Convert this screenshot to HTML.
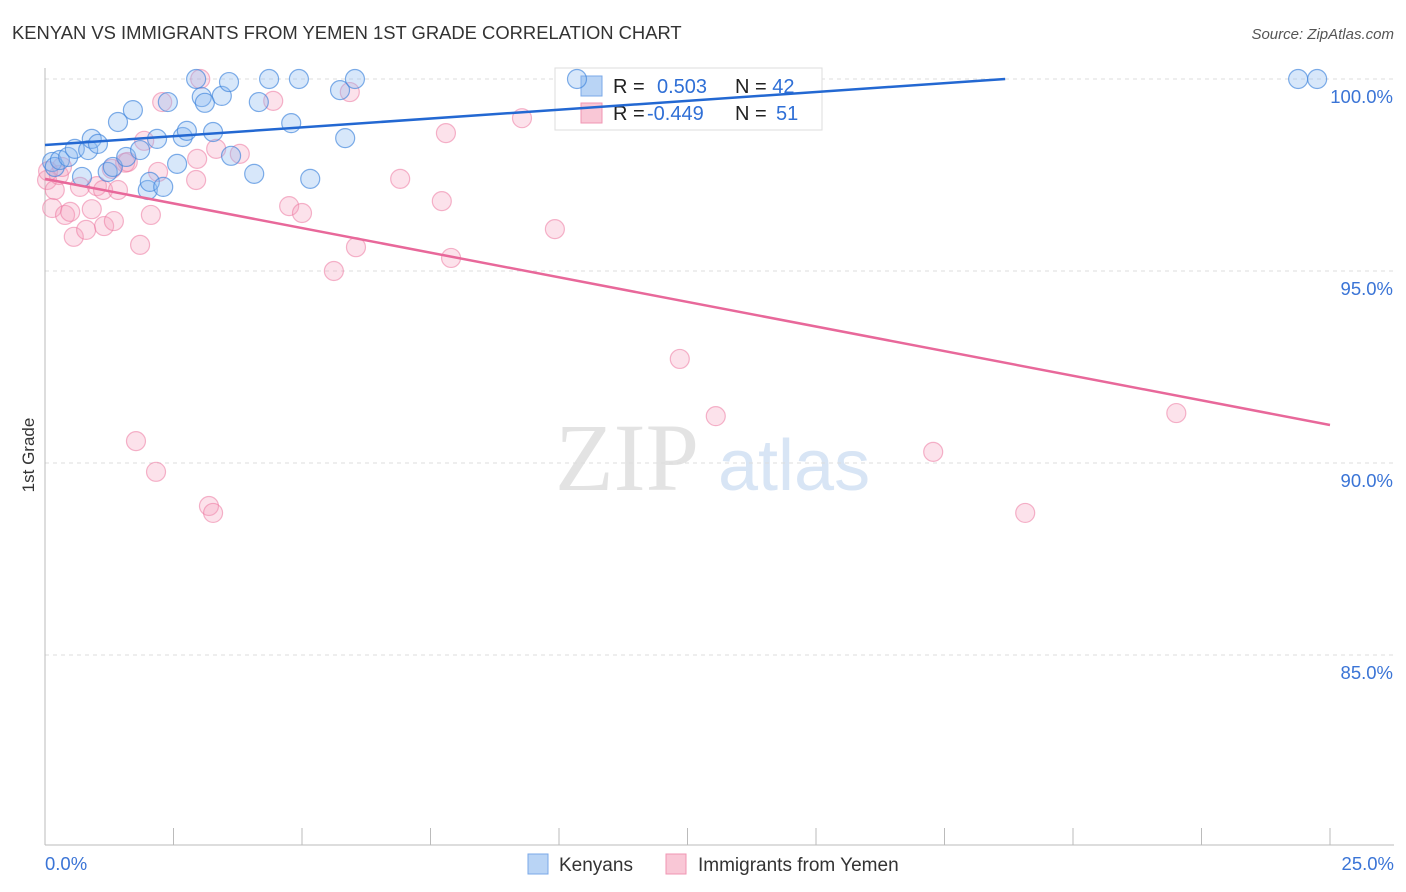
<!DOCTYPE html>
<html><head><meta charset="utf-8"><style>
body{margin:0;background:#fff;font-family:"Liberation Sans",sans-serif}
#wrap{position:relative;width:1406px;height:892px;overflow:hidden}
</style></head><body>
<div id="wrap">
<svg id="chart" width="1406" height="892">
<text x="12" y="39" font-size="18.4" fill="#333">KENYAN VS IMMIGRANTS FROM YEMEN 1ST GRADE CORRELATION CHART</text>
<text x="1394" y="39" font-size="15" fill="#555" font-style="italic" text-anchor="end">Source: ZipAtlas.com</text>
<text x="34" y="455" font-size="17" fill="#333" transform="rotate(-90 34 455)" text-anchor="middle">1st Grade</text>
<text x="555" y="490" font-size="96" fill="#e3e3e3" font-family="Liberation Serif,serif">ZIP</text>
<text x="718" y="490" font-size="72" fill="#d8e5f5">atlas</text>
<g id="grid"></g><g id="axes"></g>
<g>
<rect x="555" y="68" width="267" height="62" fill="#fff" stroke="#ddd"/>
<rect x="581" y="76" width="21" height="20" fill="#b9d4f5" stroke="#7aa8e8"/>
<rect x="581" y="103" width="21" height="20" fill="#f9c7d6" stroke="#f096b3"/>
<text x="613" y="93" font-size="20" fill="#222">R = <tspan x="657" fill="#2f6fd6">0.503</tspan><tspan x="735" fill="#222">N = </tspan><tspan fill="#2f6fd6">42</tspan></text>
<text x="613" y="120" font-size="20" fill="#222">R = <tspan x="647" fill="#2f6fd6">-0.449</tspan><tspan x="735" fill="#222">N = </tspan><tspan x="776" fill="#2f6fd6">51</tspan></text>
</g>
<g id="pts"></g><g id="lines"></g>
<g>
<rect x="528" y="854" width="20" height="20" fill="#b9d4f5" stroke="#7aa8e8"/>
<text x="559" y="871" font-size="19" fill="#333">Kenyans</text>
<rect x="666" y="854" width="20" height="20" fill="#f9c7d6" stroke="#f096b3"/>
<text x="698" y="871" font-size="19" fill="#333">Immigrants from Yemen</text>
</g>
<text x="45" y="870" font-size="18.5" fill="#3a74d6">0.0%</text>
<text x="1394" y="870" font-size="18.5" fill="#3a74d6" text-anchor="end">25.0%</text>
</svg></div>
<script>
const yTicks=[100,95,90,85];
const yTickLabels=["100.0%","95.0%","90.0%","85.0%"];
const xTicks=[2.5,5,7.5,10,12.5,15,17.5,20,22.5,25];
const kenyanX=[0.14,0.19,0.29,0.45,0.58,0.72,0.84,0.91,1.03,1.22,1.32,1.42,1.58,1.71,1.85,2.0,2.04,2.18,2.3,2.39,2.57,2.68,2.76,2.94,3.05,3.11,3.27,3.44,3.58,3.62,4.07,4.16,4.36,4.79,4.94,5.16,5.74,5.84,6.03,10.35,24.38,24.75];
const kenyanY=[97.84,97.71,97.89,97.97,98.18,97.45,98.15,98.44,98.31,97.58,97.71,98.88,97.97,99.19,98.15,97.11,97.32,98.44,97.19,99.4,97.79,98.49,98.65,100,99.53,99.38,98.62,99.56,99.92,98.0,97.53,99.4,100,98.85,100,97.4,99.71,98.46,100,100,100,100];
const yemenX=[0.04,0.14,0.19,0.27,0.39,0.49,0.56,0.68,0.8,0.91,1.01,1.13,1.15,1.3,1.34,1.42,1.56,1.77,1.85,1.93,2.06,2.16,2.2,2.28,2.94,2.96,3.02,3.19,3.27,3.33,3.79,4.44,4.75,5.0,5.62,5.93,6.05,6.91,7.72,7.8,7.9,9.28,9.92,12.35,13.05,17.28,19.07,22.01,0.06,0.33,1.61];
const yemenY=[97.37,96.64,97.11,97.5,96.46,96.54,95.89,97.19,96.07,96.61,97.21,97.11,96.17,97.66,96.3,97.11,97.82,90.57,95.68,98.39,96.46,89.77,97.58,99.4,97.37,97.92,100,88.88,88.7,98.18,98.05,99.43,96.69,96.51,95.0,99.66,95.62,97.4,96.82,98.59,95.34,98.98,96.09,92.71,91.22,90.29,88.7,91.3,97.6,97.71,97.84];
const kenyanLine=[[0,98.28],[18.68,100]];
const yemenLine=[[0,97.4],[25,90.99]];
const X=v=>45+v/25*1285, Y=v=>79+(100-v)*38.4;
const NS="http://www.w3.org/2000/svg";
function mk(p,t,a){const e=document.createElementNS(NS,t);for(const k in a)e.setAttribute(k,a[k]);p.appendChild(e);return e;}
const grid=document.getElementById('grid'),axes=document.getElementById('axes'),pts=document.getElementById('pts'),lines=document.getElementById('lines');
yTicks.forEach((t,i)=>{
 const l=mk(grid,'line',{x1:45,x2:1394,y1:Y(t),y2:Y(t),stroke:'#ddd','stroke-dasharray':'4,4'});
 
 
 const tx=mk(grid,'text',{x:1393,y:Y(t)+24,'font-size':18.5,fill:'#3a74d6','text-anchor':'end'});
 tx.textContent=yTickLabels[i];
 
 
});
const ya=mk(axes,'line',{x1:45,x2:45,y1:68,y2:845,stroke:'#bbb'});


const xa=mk(axes,'line',{x1:45,x2:1394,y1:845,y2:845,stroke:'#bbb'});


xTicks.forEach(t=>{
 const l=mk(axes,'line',{x1:X(t),x2:X(t),y1:828,y2:845,stroke:'#bbb'});
 
 
});
function dots(xs,ys,fill,stroke,name){
 xs.forEach((x,i)=>{
  const c=mk(pts,'circle',{cx:X(x),cy:Y(ys[i]),r:9.5,fill:fill,stroke:stroke,'stroke-width':1.2});
  
  
 });
}
dots(yemenX,yemenY,'rgba(246,160,188,0.3)','rgba(236,120,160,0.55)','yemen-point');
dots(kenyanX,kenyanY,'rgba(140,185,240,0.35)','rgba(60,130,220,0.65)','kenyan-point');
const bl=mk(lines,'line',{x1:X(kenyanLine[0][0]),y1:Y(kenyanLine[0][1]),x2:X(kenyanLine[1][0]),y2:Y(kenyanLine[1][1]),stroke:'#2368d2','stroke-width':2.5});


const pl=mk(lines,'line',{x1:X(yemenLine[0][0]),y1:Y(yemenLine[0][1]),x2:X(yemenLine[1][0]),y2:Y(yemenLine[1][1]),stroke:'#e8689a','stroke-width':2.5});


</script>
</body></html>
